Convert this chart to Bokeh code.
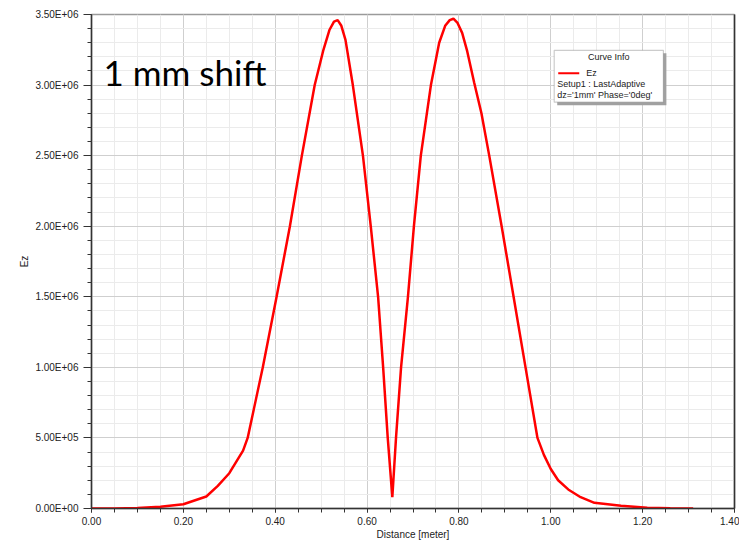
from bokeh.plotting import figure
from bokeh.models import (Range1d, SingleIntervalTicker, NumeralTickFormatter, CustomJSTickFormatter,
                          LinearAxis, Label, BoxAnnotation, Arrow)
from bokeh.embed import file_html
from bokeh.resources import INLINE

# ---- data ----
distance = [0.00, 0.05, 0.10, 0.15, 0.20, 0.25, 0.275, 0.30, 0.33, 0.34, 0.373, 0.403, 0.432, 0.458,
            0.486, 0.505, 0.518, 0.528, 0.536, 0.544, 0.553, 0.569, 0.591, 0.608, 0.624, 0.635,
            0.645, 0.655, 0.663, 0.674, 0.689, 0.702, 0.717, 0.739, 0.757, 0.770, 0.780, 0.788,
            0.797, 0.807, 0.818, 0.833, 0.849, 0.866, 0.893, 0.919, 0.945, 0.971, 0.985, 1.00,
            1.016, 1.038, 1.065, 1.095, 1.153, 1.21, 1.26, 1.31]
ez = [0.0, 0.0, 0.003e6, 0.012e6, 0.03e6, 0.085e6, 0.16e6, 0.25e6, 0.41e6, 0.50e6, 1.00e6, 1.50e6,
      2.00e6, 2.50e6, 3.00e6, 3.25e6, 3.39e6, 3.45e6, 3.46e6, 3.42e6, 3.32e6, 3.00e6, 2.50e6,
      2.00e6, 1.50e6, 1.00e6, 0.50e6, 0.08e6, 0.50e6, 1.00e6, 1.50e6, 2.00e6, 2.50e6, 3.00e6,
      3.30e6, 3.42e6, 3.46e6, 3.47e6, 3.44e6, 3.37e6, 3.24e6, 3.02e6, 2.80e6, 2.50e6, 2.00e6,
      1.50e6, 1.00e6, 0.50e6, 0.38e6, 0.28e6, 0.20e6, 0.135e6, 0.08e6, 0.04e6, 0.02e6, 0.005e6,
      0.001e6, 0.0]

title_text = "1 mm shift"
x_label = "Distance [meter]"
y_label = "Ez"
legend_title = "Curve Info"
legend_item = "Ez"
legend_lines = ["Setup1 : LastAdaptive", "dz='1mm' Phase='0deg'"]

# ---- frame geometry (page pixels) for decoration placement ----
FL, FR, FT, FB = 91, 733, 14, 510
XMAX, YMAX = 1.4, 3.5e6

def dx(px):
    return (px - FL) / (FR - FL) * XMAX

def dy(py):
    return (FB - py) / (FB - FT) * YMAX

p = figure(width=739, height=542, output_backend="svg", toolbar_location=None,
           x_range=Range1d(0, XMAX + 1e-9), y_range=Range1d(0, YMAX),
           min_border_left=FL, min_border_right=739 - FR - 1, min_border_top=FT,
           min_border_bottom=542 - FB - 2, background_fill_color="white", border_fill_color="white")
p.outline_line_color = "#9a9a9a"
p.outline_line_width = 1.5

p.xaxis.ticker = SingleIntervalTicker(interval=0.2, num_minor_ticks=4)
p.yaxis.ticker = SingleIntervalTicker(interval=0.5e6, num_minor_ticks=5)
p.xaxis.formatter = NumeralTickFormatter(format="0.00")
p.yaxis.formatter = CustomJSTickFormatter(code="""
const m = tick.toExponential(2).split('e');
let e = parseInt(m[1]); const s = e < 0 ? '-' : '+'; e = Math.abs(e);
return m[0] + 'E' + s + (e < 10 ? '0' : '') + e;
""")

for ax in (p.xaxis[0], p.yaxis[0]):
    ax.axis_line_color = "#333333"
    ax.axis_line_width = 1.5
    ax.major_tick_line_color = "#333333"
    ax.minor_tick_line_color = "#333333"
    ax.major_tick_in = 0
    ax.minor_tick_in = 0
    ax.major_label_text_font = "Liberation Sans"
    ax.major_label_text_font_size = "10px"
    ax.major_label_text_color = "#222222"
    ax.axis_label_text_font = "Liberation Sans"
    ax.axis_label_text_font_size = "10px"
    ax.axis_label_text_font_style = "normal"
    ax.axis_label_text_color = "#222222"

p.xaxis.axis_label = x_label
p.xaxis.major_tick_out = 4
p.xaxis.minor_tick_out = 4
p.xaxis.major_label_standoff = 4
p.xaxis.axis_label_standoff = 1

p.yaxis.axis_label = y_label
p.yaxis.major_tick_out = 8
p.yaxis.minor_tick_out = 4
p.yaxis.major_label_standoff = 5
p.yaxis.axis_label_standoff = 2

right_axis = LinearAxis(major_tick_out=0, major_tick_in=0, minor_tick_out=0, minor_tick_in=0,
                        major_label_text_font_size="0px", axis_line_color="#333333",
                        axis_line_width=1.5)
right_axis.major_label_text_alpha = 0
p.add_layout(right_axis, "right")

p.xgrid.grid_line_color = "#cfcfcf"
p.ygrid.grid_line_color = "#cfcfcf"
p.xgrid.minor_grid_line_color = "#ebebeb"
p.ygrid.minor_grid_line_color = "#ebebeb"

r = p.line(distance, ez, line_color="#ff0000", line_width=2.5)

# title text inside the plot
p.add_layout(Label(x=dx(103), y=dy(72), text=title_text, text_font="Lato",
                   text_font_size="35px", text_color="#000000", text_baseline="alphabetic"))

# "Curve Info" box
p.add_layout(BoxAnnotation(left=dx(556), right=dx(665), top=dy(53), bottom=dy(105),
                           fill_color="#a0a0a0", fill_alpha=1, line_alpha=0))
p.add_layout(BoxAnnotation(left=dx(553), right=dx(662), top=dy(50), bottom=dy(102),
                           fill_color="white", fill_alpha=1, line_color="#555555", line_width=1.2))
p.add_layout(Label(x=dx(607.5), y=dy(57), text=legend_title, text_align="center",
                   text_baseline="middle", text_font="Liberation Sans", text_font_size="9px",
                   text_color="#222222"))
p.add_layout(Arrow(start=None, end=None, x_start=dx(557), y_start=dy(73), x_end=dx(578),
                   y_end=dy(73), line_color="#ff0000", line_width=2))
p.add_layout(Label(x=dx(585), y=dy(73), text=legend_item, text_baseline="middle",
                   text_font="Liberation Sans", text_font_size="9px", text_color="#222222"))
for i, t in enumerate(legend_lines):
    p.add_layout(Label(x=dx(556), y=dy(84 + 10.5 * i), text=t, text_baseline="middle",
                       text_font="Liberation Sans", text_font_size="9px", text_color="#222222"))

open("out.html", "w").write(file_html(p, INLINE))
